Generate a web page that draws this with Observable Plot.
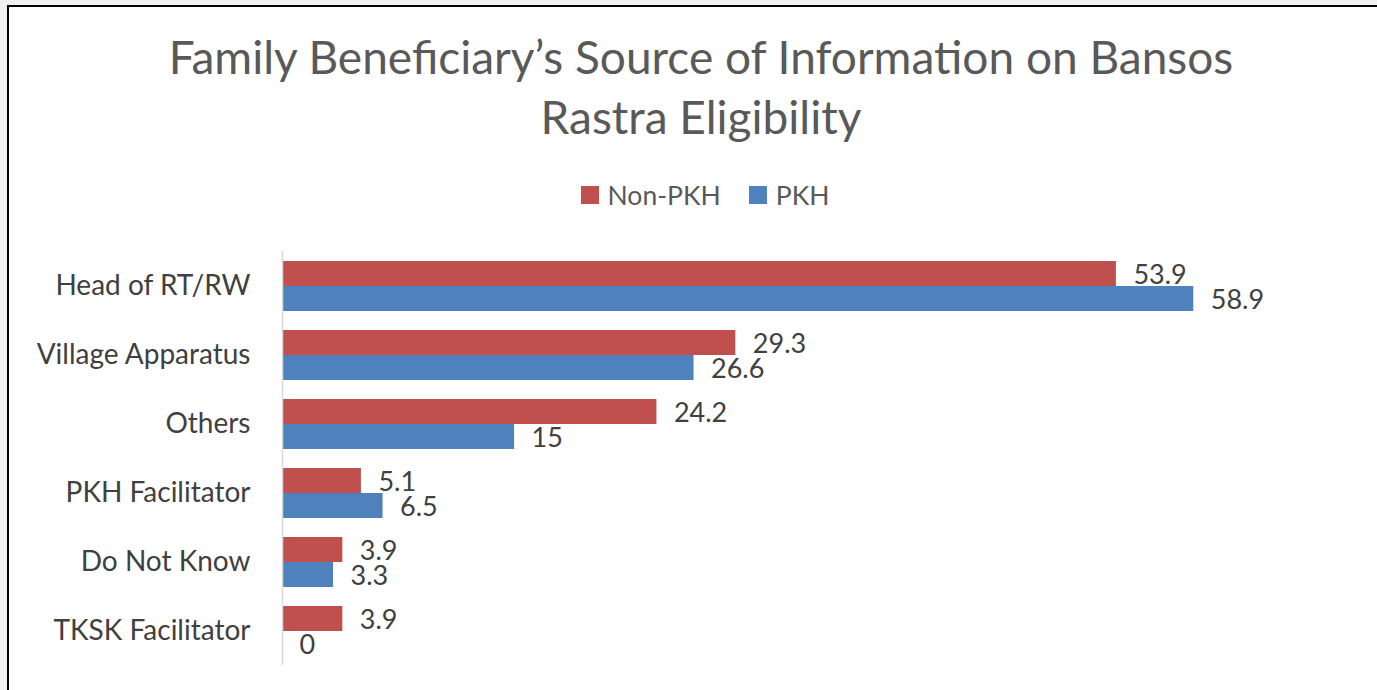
<!DOCTYPE html>
<html>
<head>
<meta charset="utf-8">
<script src="https://cdn.jsdelivr.net/npm/d3@7"></script>
<script src="https://cdn.jsdelivr.net/npm/@observablehq/plot@0.6"></script>
<style>
  html, body { margin: 0; padding: 0; background: #f0f0f0; width: 1377px; height: 690px; overflow: hidden; }
  #frame { position: absolute; left: 7px; top: 5px; width: 1400px; height: 700px; background: #fff;
           border-top: 2px solid #000; border-left: 2px solid #000; }
  .ff { font-family: Lato, "Open Sans", sans-serif; }
  #title { position: absolute; left: 0; top: 27px; width: 1402px; text-align: center; color: #595959;
           font-size: 46px; line-height: 60px; }
  #legend { position: absolute; left: 4px; top: 179px; width: 1402px; display: flex; justify-content: center;
            align-items: center; color: #595959; font-size: 26.5px; }
  .sw { display: inline-block; width: 18px; height: 18px; margin-right: 9px; }
  .item { display: flex; align-items: center; margin: 0 14px; }
  #chart { position: absolute; left: 0; top: 240px; }
</style>
</head>
<body>
<div id="frame"></div>
<div id="title" class="ff">Family Beneficiary’s Source of Information on Bansos<br>Rastra Eligibility</div>
<div id="legend" class="ff"></div>
<div id="chart"></div>
<script>
const categories = ["Head of RT/RW", "Village Apparatus", "Others", "PKH Facilitator", "Do Not Know", "TKSK Facilitator"];
const series = ["Non-PKH", "PKH"];
const nonPKH = [53.9, 29.3, 24.2, 5.1, 3.9, 3.9];
const pkh = [58.9, 26.6, 15, 6.5, 3.3, 0];
const colors = ["#C0504D", "#4F81BD"];

const data = [];
categories.forEach((c, i) => {
  data.push({category: c, series: series[0], value: nonPKH[i]});
  data.push({category: c, series: series[1], value: pkh[i]});
});

const legend = document.getElementById("legend");
series.forEach((s, i) => {
  const it = document.createElement("span");
  it.className = "item";
  it.innerHTML = `<span class="sw" style="background:${colors[i]}"></span>${s}`;
  legend.appendChild(it);
});

const chart = Plot.plot({
  width: 1377,
  height: 440,
  marginLeft: 282,
  marginRight: 12,
  marginTop: 11,
  marginBottom: 15,
  style: {fontFamily: "Lato, 'Open Sans', sans-serif", fontSize: "28px", color: "#404040", background: "transparent", overflow: "visible"},
  x: {domain: [0, 70], axis: null},
  y: {domain: series, axis: null, paddingInner: 0, paddingOuter: 0.353},
  fy: {domain: categories, padding: 0, axis: "left", label: null, tickSize: 0, tickPadding: 32},
  color: {domain: series, range: colors},
  marks: [
    Plot.barX(data, {x: "value", y: "series", fy: "category", fill: "series"}),
    Plot.ruleX([0], {stroke: "#d9d9d9", strokeWidth: 1.5}),
    Plot.text(data, {x: "value", y: "series", fy: "category", text: d => String(d.value), dx: 17, dy: 1, textAnchor: "start", fill: "#404040", fontSize: 27})
  ]
});
document.getElementById("chart").appendChild(chart);
</script>
</body>
</html>
